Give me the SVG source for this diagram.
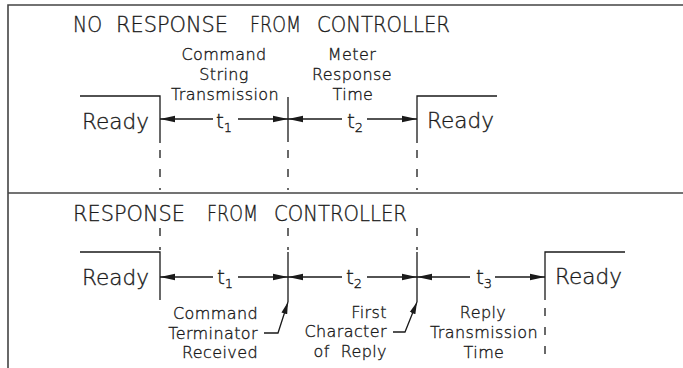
<svg xmlns="http://www.w3.org/2000/svg" width="683" height="368" viewBox="0 0 683 368">
<defs>
<marker id="ah" markerWidth="15" markerHeight="8" refX="15" refY="4" orient="auto" markerUnits="userSpaceOnUse"><path d="M0,0.7 L15,4 L0,7.3 z" fill="#1a1a1a"/></marker>
<marker id="lh" markerWidth="12" markerHeight="8" refX="12" refY="4" orient="auto" markerUnits="userSpaceOnUse"><path d="M0,1 L12,4 L0,7 z" fill="#1a1a1a"/></marker>
<style>
.frame{stroke:#444;stroke-width:1.6;fill:none}
.ln{stroke:#1a1a1a;stroke-width:1.3;fill:none}
.dash{stroke:#1a1a1a;stroke-width:1.3;fill:none;stroke-dasharray:8 11}
.arr{stroke:#1a1a1a;stroke-width:1.3;fill:none;marker-end:url(#ah)}
.lead{stroke:#1a1a1a;stroke-width:1.3;fill:none;marker-end:url(#lh)}
text{font-family:"DejaVu Sans","Liberation Sans",sans-serif;fill:#1a1a1a;stroke:#1a1a1a;stroke-width:0.35;font-weight:200}
.title{font-size:21px}
.ready{font-size:21px}
.lbl{font-size:16px;letter-spacing:0.4px}
.t{font-size:20px}
.sub{font-size:13px}
</style>
</defs>
<g id="frame">
<path class="frame" d="M683,5 H8 V368"/>
<line class="frame" x1="8" y1="193" x2="683" y2="193"/>
</g>
<g id="section-no-response">
<g id="title1" class="title"><text x="73" y="32" textLength="29" lengthAdjust="spacingAndGlyphs">NO</text><text x="116" y="32" textLength="112" lengthAdjust="spacingAndGlyphs">RESPONSE</text><text x="250" y="32" textLength="51" lengthAdjust="spacingAndGlyphs">FROM</text><text x="317" y="32" textLength="133" lengthAdjust="spacingAndGlyphs">CONTROLLER</text></g>
<g id="ready1a"><path class="ln" d="M80,96 H160 V143"/><text class="ready" x="82" y="129" textLength="67" lengthAdjust="spacingAndGlyphs">Ready</text></g>
<g id="ready1b"><path class="ln" d="M497,96 H417 V143"/><text class="ready" x="427" y="128" textLength="67" lengthAdjust="spacingAndGlyphs">Ready</text></g>
<g id="mark1"><line class="ln" x1="288" y1="97" x2="288" y2="142"/></g>
<g id="label1a" class="lbl" text-anchor="middle"><text x="224" y="60">Command</text><text x="224" y="80">String</text><text x="225" y="100">Transmission</text></g>
<g id="label1b" class="lbl" text-anchor="middle"><text x="352" y="60">Meter</text><text x="352" y="80">Response</text><text x="353" y="100">Time</text></g>
<g id="t1a"><text class="t" x="216" y="128">t<tspan class="sub" dy="4">1</tspan></text></g>
<g id="t1b"><text class="t" x="347" y="128">t<tspan class="sub" dy="4">2</tspan></text></g>
</g>
<g id="section-response">
<g id="title2" class="title"><text x="73" y="221" textLength="112" lengthAdjust="spacingAndGlyphs">RESPONSE</text><text x="207" y="221" textLength="51" lengthAdjust="spacingAndGlyphs">FROM</text><text x="274" y="221" textLength="133" lengthAdjust="spacingAndGlyphs">CONTROLLER</text></g>
<g id="ready2a"><path class="ln" d="M80,252 H160 V300"/><text class="ready" x="82" y="285" textLength="67" lengthAdjust="spacingAndGlyphs">Ready</text></g>
<g id="ready2b"><path class="ln" d="M625,252 H545 V300"/><text class="ready" x="555" y="284" textLength="67" lengthAdjust="spacingAndGlyphs">Ready</text></g>
<g id="mark2a"><line class="ln" x1="288" y1="252" x2="288" y2="302"/></g>
<g id="mark2b"><line class="ln" x1="417" y1="252" x2="417" y2="302"/></g>
<g id="label2a" class="lbl" text-anchor="end"><text x="258" y="319">Command</text><text x="258" y="339">Terminator</text><text x="258" y="358">Received</text></g>
<g id="label2b" class="lbl" text-anchor="end"><text x="387" y="318">First</text><text x="387" y="337">Character</text><text x="387" y="357" xml:space="preserve">of  Reply</text></g>
<g id="label2c" class="lbl" text-anchor="middle"><text x="483" y="318">Reply</text><text x="484" y="338">Transmission</text><text x="484" y="358">Time</text></g>
<g id="t2a"><text class="t" x="217" y="284">t<tspan class="sub" dy="4">1</tspan></text></g>
<g id="t2b"><text class="t" x="346" y="284">t<tspan class="sub" dy="4">2</tspan></text></g>
<g id="t2c"><text class="t" x="476" y="284">t<tspan class="sub" dy="4">3</tspan></text></g>
</g>
<g id="connectors">
<line class="arr" x1="213" y1="119" x2="160" y2="119"/>
<line class="arr" x1="238" y1="119" x2="288" y2="119"/>
<line class="arr" x1="342" y1="119" x2="288" y2="119"/>
<line class="arr" x1="367" y1="119" x2="417" y2="119"/>
<line class="dash" x1="160" y1="150" x2="160" y2="190"/>
<line class="dash" x1="288" y1="150" x2="288" y2="190"/>
<line class="dash" x1="417" y1="150" x2="417" y2="190"/>
<line class="dash" x1="160" y1="228" x2="160" y2="250"/>
<line class="dash" x1="288" y1="228" x2="288" y2="250"/>
<line class="dash" x1="417" y1="228" x2="417" y2="250"/>
<line class="dash" x1="545" y1="308" x2="545" y2="360"/>
<line class="arr" x1="213" y1="277" x2="160" y2="277"/>
<line class="arr" x1="238" y1="277" x2="288" y2="277"/>
<line class="arr" x1="342" y1="277" x2="288" y2="277"/>
<line class="arr" x1="367" y1="277" x2="417" y2="277"/>
<line class="arr" x1="470" y1="277" x2="417" y2="277"/>
<line class="arr" x1="495" y1="277" x2="545" y2="277"/>
<path class="lead" d="M264,333 H278 L288,302"/>
<path class="lead" d="M393,332 H405 L417,302"/>
</g>
</svg>
